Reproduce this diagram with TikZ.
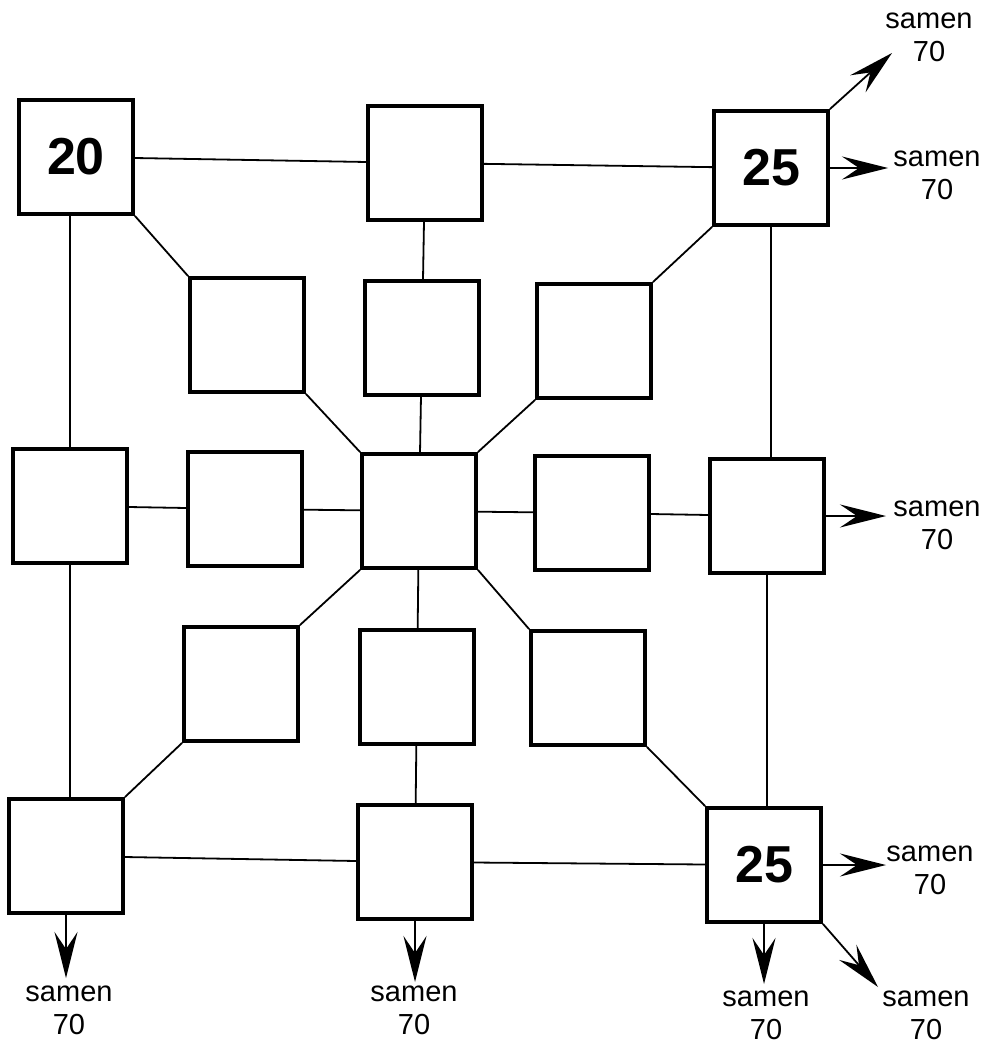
\documentclass[tikz,border=0pt]{standalone}
\usepackage{fontspec}
\setmainfont{Liberation Sans}
\usetikzlibrary{arrows.meta}

\begin{document}
\begin{tikzpicture}[x=1pt, y=-1pt,
  plot/.style={draw, line width=3.8pt, minimum size=114pt, inner sep=0pt,
    font=\fontsize{52}{52}\selectfont\bfseries},
  link/.style={line width=1.8pt},
  arrow/.style={line width=1.8pt, -{Stealth[length=46pt, width=23pt, inset=17pt]}},
  yield/.style={align=center, inner sep=0pt, font=\fontsize{29}{33}\selectfont}
]
  \useasboundingbox (0,0) rectangle (1005,1046);

  % Outer ring of plots
  \node[plot] (TL) at (76,157) {20};
  \node[plot] (TM) at (425,163) {};
  \node[plot] (TR) at (771,168) {25};
  \node[plot] (ML) at (70,506) {};
  \node[plot] (MR) at (767,516) {};
  \node[plot] (BL) at (66,856) {};
  \node[plot] (BM) at (415,862) {};
  \node[plot] (BR) at (764,865) {25};

  % Inner ring of plots
  \node[plot] (iTL) at (247,335) {};
  \node[plot] (iTM) at (422,338) {};
  \node[plot] (iTR) at (594,341) {};
  \node[plot] (iML) at (245,509) {};
  \node[plot] (C)   at (419,511) {};
  \node[plot] (iMR) at (592,513) {};
  \node[plot] (iBL) at (241,684) {};
  \node[plot] (iBM) at (417,687) {};
  \node[plot] (iBR) at (588,688) {};

  % Outer links
  \draw[link] (TL) -- (TM);
  \draw[link] (TM) -- (TR);
  \draw[link] (BL) -- (BM);
  \draw[link] (BM) -- (BR);
  \draw[link] (TL.south -| ML) -- (ML);
  \draw[link] (ML) -- (BL.north -| ML);
  \draw[link] (TR) -- (MR.north -| TR);
  \draw[link] (MR) -- (BR.north -| MR);

  % Spokes to the centre
  \draw[link] (TL.south east) -- (iTL.north west);
  \draw[link] (iTL.south east) -- (C.north west);
  \draw[link] (TM) -- (iTM);
  \draw[link] (iTM) -- (C);
  \draw[link] (TR.south west) -- (iTR.north east);
  \draw[link] (iTR.south west) -- (C.north east);
  \draw[link] (ML) -- (iML);
  \draw[link] (iML) -- (C);
  \draw[link] (C) -- (iMR);
  \draw[link] (iMR) -- (MR);
  \draw[link] (C.south west) -- (iBL.north east);
  \draw[link] (iBL.south west) -- (BL.north east);
  \draw[link] (C) -- (iBM);
  \draw[link] (iBM) -- (BM);
  \draw[link] (C.south east) -- (iBR.north west);
  \draw[link] (iBR.south east) -- (BR.north west);

  % Arrow tips
  \coordinate (t1) at (892,53);
  \coordinate (t2) at (888,168);
  \coordinate (t3) at (886,516);
  \coordinate (t4) at (886,865);
  \coordinate (t5) at (878,987);
  \coordinate (t6) at (764,984);
  \coordinate (t7) at (415,982);
  \coordinate (t8) at (66,978);

  % Seed output
  \draw[arrow] (TR.north east) -- (t1);
  \draw[arrow] (TR.east) -- (t2);
  \draw[arrow] (MR.east) -- (t3);
  \draw[arrow] (BR.east) -- (t4);
  \draw[arrow] (BR.south east) -- (t5);
  \draw[arrow] (BR.south) -- (t6);
  \draw[arrow] (BM.south) -- (t7);
  \draw[arrow] (BL.south) -- (t8);

  \node[yield] (s1) at (929,37) {samen\\70};
  \node[yield] (s2) at (937,175) {samen\\70};
  \node[yield] (s3) at (937,525) {samen\\70};
  \node[yield] (s4) at (930,870) {samen\\70};
  \node[yield] (s5) at (926,1015) {samen\\70};
  \node[yield] (s6) at (766,1015) {samen\\70};
  \node[yield] (s7) at (414,1010) {samen\\70};
  \node[yield] (s8) at (69,1010) {samen\\70};

\end{tikzpicture}
\end{document}
